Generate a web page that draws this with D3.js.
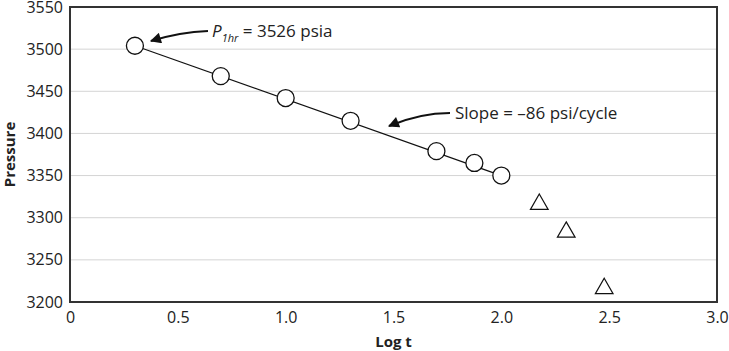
<!DOCTYPE html>
<html>
<head>
<meta charset="utf-8">
<script src="https://cdn.jsdelivr.net/npm/d3@7"></script>
<style>
  body { margin: 0; background: #fff; }
  text { font-family: "Open Sans", "Noto Sans", sans-serif; }
</style>
</head>
<body>
<script>
// data
var logT = [0.301, 0.699, 1.0, 1.301, 1.699, 1.875, 2.0];
var pressure = [3504, 3468, 3442, 3415, 3379, 3365, 3350];
var lateLogT = [2.176, 2.301, 2.477];
var latePressure = [3316, 3283, 3216];
var xTicks = [0, 0.5, 1.0, 1.5, 2.0, 2.5, 3.0];
var yTicks = [3200, 3250, 3300, 3350, 3400, 3450, 3500, 3550];
var fitLine = [[0.301, 3504], [2.0, 3350]];

var width = 729, height = 351;
var margin = { left: 70, right: 12, top: 7, bottom: 49 };

var svg = d3.select("body").append("svg")
  .attr("width", width).attr("height", height);

var x = d3.scaleLinear().domain([0, 3]).range([margin.left, width - margin.right]);
var y = d3.scaleLinear().domain([3200, 3550]).range([height - margin.bottom, margin.top]);

// gridlines
svg.append("g").selectAll("line")
  .data(yTicks.slice(1, -1))
  .join("line")
  .attr("x1", x(0)).attr("x2", x(3))
  .attr("y1", function (d) { return y(d); })
  .attr("y2", function (d) { return y(d); })
  .attr("stroke", "#d4d4d4").attr("stroke-width", 1);

// axes (labels only)
var yAxis = svg.append("g")
  .attr("transform", "translate(" + margin.left + ",0)")
  .call(d3.axisLeft(y).tickValues(yTicks).tickSize(0).tickPadding(7).tickFormat(d3.format("d")));
yAxis.select(".domain").remove();
yAxis.selectAll("text").attr("font-size", 16).attr("fill", "#222");

var xAxis = svg.append("g")
  .attr("transform", "translate(0," + y(3200) + ")")
  .call(d3.axisBottom(x).tickValues(xTicks).tickSize(0).tickPadding(10)
    .tickFormat(function (d) { return d === 0 ? "0" : d3.format(".1f")(d); }));
xAxis.select(".domain").remove();
xAxis.selectAll("text").attr("font-size", 16).attr("fill", "#222");

// frame
svg.append("rect")
  .attr("x", x(0)).attr("y", y(3550))
  .attr("width", x(3) - x(0)).attr("height", y(3200) - y(3550))
  .attr("fill", "none").attr("stroke", "#333").attr("stroke-width", 2);

// axis titles
svg.append("text")
  .attr("transform", "translate(15," + (y(3375)) + ") rotate(-90)")
  .attr("text-anchor", "middle").attr("font-size", 15).attr("font-weight", "bold")
  .attr("fill", "#222").text("Pressure");
svg.append("text")
  .attr("x", x(1.5)).attr("y", 347)
  .attr("text-anchor", "middle").attr("font-size", 15).attr("font-weight", "bold")
  .attr("fill", "#222").text("Log t");

// fitted line
svg.append("path")
  .datum(fitLine)
  .attr("d", d3.line().x(function (d) { return x(d[0]); }).y(function (d) { return y(d[1]); }))
  .attr("stroke", "#111").attr("stroke-width", 1.2).attr("fill", "none");

// circles
svg.append("g").selectAll("circle")
  .data(logT)
  .join("circle")
  .attr("cx", function (d) { return x(d); })
  .attr("cy", function (d, i) { return y(pressure[i]); })
  .attr("r", 8.5)
  .attr("fill", "#fff").attr("stroke", "#111").attr("stroke-width", 1.3);

// triangles
var tri = d3.symbol().type(d3.symbolTriangle).size(135);
svg.append("g").selectAll("path")
  .data(lateLogT)
  .join("path")
  .attr("d", tri)
  .attr("transform", function (d, i) { return "translate(" + x(d) + "," + y(latePressure[i]) + ")"; })
  .attr("fill", "#fff").attr("stroke", "#111").attr("stroke-width", 1.2);

// arrowhead
svg.append("defs").append("marker")
  .attr("id", "arrow").attr("viewBox", "0 0 10 10")
  .attr("refX", 9).attr("refY", 5)
  .attr("markerWidth", 6).attr("markerHeight", 5.5)
  .attr("orient", "auto")
  .append("path").attr("d", "M0,0 L10,5 L0,10 z").attr("fill", "#111");

// annotation 1
svg.append("path")
  .attr("d", "M208,31 Q180,32 151,41")
  .attr("stroke", "#111").attr("stroke-width", 2).attr("fill", "none")
  .attr("marker-end", "url(#arrow)");
var t1 = svg.append("text").attr("x", 212).attr("y", 37).attr("font-size", 17).attr("fill", "#222");
t1.append("tspan").attr("font-style", "italic").text("P");
t1.append("tspan").attr("font-style", "italic").attr("font-size", 11).attr("dy", 5).text("1hr");
t1.append("tspan").attr("dy", -5).text(" = 3526 psia");

// annotation 2
svg.append("path")
  .attr("d", "M450,113 Q420,113 389,126")
  .attr("stroke", "#111").attr("stroke-width", 2).attr("fill", "none")
  .attr("marker-end", "url(#arrow)");
svg.append("text").attr("x", 455).attr("y", 119).attr("font-size", 17).attr("fill", "#222")
  .text("Slope = \u201386 psi/cycle");
</script>
</body>
</html>
